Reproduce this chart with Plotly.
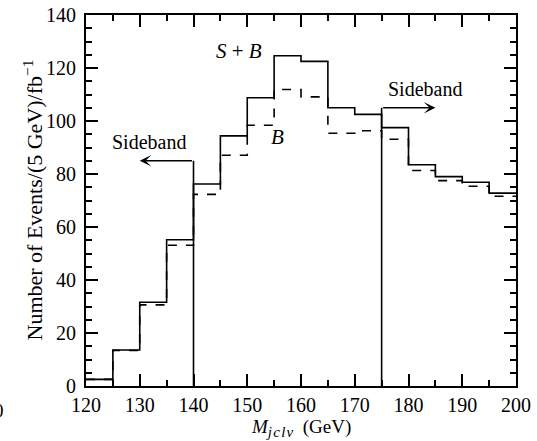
import plotly.graph_objects as go

# Histogram bin edges (GeV) and contents per 5 GeV bin, events/fb^-1
bin_edges = [120, 125, 130, 135, 140, 145, 150, 155, 160, 165, 170, 175, 180, 185, 190, 195, 200]
signal_plus_bkg = [2.5, 13.6, 31.6, 55.2, 76.2, 94.4, 108.8, 124.6, 122.5, 105.0, 102.5, 97.5, 83.5, 79.0, 76.9, 72.8]
background = [2.5, 13.4, 30.6, 53.1, 72.3, 87.1, 98.4, 111.9, 109.1, 95.4, 96.3, 93.1, 81.3, 77.5, 75.4, 71.6]

# Sideband cuts: cut position, arrow height, arrow end
sideband_cut = [140, 175]
sideband_level = [85, 105]
sideband_end = [130, 185]
sideband_label_x = [131.8, 183.1]

FONT = "Liberation Serif"
BLACK = "black"
HAIR = "\u200a"


def steps(values):
    return bin_edges, list(values) + [values[-1]]


fig = go.Figure()

xs, ys = steps(signal_plus_bkg)
fig.add_trace(go.Scatter(x=xs, y=ys, mode="lines", line=dict(color=BLACK, width=1.6, shape="hv"),
                         showlegend=False, hoverinfo="skip"))
xb, yb = steps(background)
fig.add_trace(go.Scatter(x=xb, y=yb, mode="lines", line=dict(color=BLACK, width=1.6, shape="hv", dash="dash"),
                         showlegend=False, hoverinfo="skip"))

# vertical cut lines with sideband arrows
for cut, lvl, end, lx in zip(sideband_cut, sideband_level, sideband_end, sideband_label_x):
    fig.add_trace(go.Scatter(x=[cut, cut], y=[0, lvl], mode="lines",
                             line=dict(color=BLACK, width=1.6), showlegend=False, hoverinfo="skip"))
    fig.add_annotation(x=end, y=lvl, ax=cut, ay=lvl, xref="x", yref="y", axref="x", ayref="y",
                       text="", showarrow=True, arrowhead=3, arrowsize=1.3, arrowwidth=1.5, arrowcolor=BLACK)
    fig.add_annotation(x=lx, y=lvl + 7.1, xref="x", yref="y",
                       text="Sideband", showarrow=False, font=dict(family=FONT, size=20, color=BLACK))

fig.add_annotation(x=148.5, y=126.4, xref="x", yref="y", text="<i>S</i> + <i>B</i>", showarrow=False,
                   font=dict(family=FONT, size=21, color=BLACK))
fig.add_annotation(x=155.7, y=94.0, xref="x", yref="y", text="<i>B</i>", showarrow=False,
                   font=dict(family=FONT, size=21, color=BLACK))

# partial label clipped at the left edge
fig.add_annotation(x=0, y=0, xref="paper", yref="paper", xanchor="right", yanchor="top",
                   xshift=-80, yshift=-12, text="0", showarrow=False,
                   font=dict(family=FONT, size=19, color=BLACK))

# axis titles
x_title = ("<i>M</i><sub><span style='font-size:15px'><i>j" + HAIR + "c" + HAIR + "l" + HAIR + "ν</i></span></sub>"
           + "  (GeV)")
fig.add_annotation(x=0.5, y=0, xref="paper", yref="paper", xanchor="center", yanchor="top",
                   yshift=-28, text=x_title, showarrow=False,
                   font=dict(family=FONT, size=19, color=BLACK))
fig.add_annotation(x=0, y=0.5, xref="paper", yref="paper", xanchor="center", yanchor="middle",
                   xshift=-54, textangle=-90, text="Number of Events/(5 GeV)/fb<sup>−1</sup>", showarrow=False,
                   font=dict(family=FONT, size=22, color=BLACK))

tick_font = dict(family=FONT, size=20, color=BLACK)
minor_ticks = dict(ticks="inside", ticklen=6, tickcolor=BLACK, tickwidth=1.5, showgrid=False)
axis_common = dict(showline=True, linecolor=BLACK, linewidth=2.2, mirror=True, automargin=False,
                   ticks="inside", tickcolor=BLACK, tickwidth=1.5, ticklen=12, showgrid=False, zeroline=False,
                   tickfont=tick_font)

fig.update_layout(
    xaxis=dict(range=[120, 200], dtick=10, minor=dict(dtick=5, **minor_ticks), **axis_common),
    yaxis=dict(range=[0, 140], dtick=20, minor=dict(dtick=5, **minor_ticks), ticklabelstandoff=4,
               **axis_common),
    # mirrored tick marks on the top and right edges
    xaxis2=dict(overlaying="x", side="top", range=[120, 200], dtick=10, ticks="inside", ticklen=12,
                tickwidth=1.5, tickcolor=BLACK, showticklabels=False, showgrid=False, zeroline=False,
                automargin=False, minor=dict(dtick=5, **minor_ticks)),
    yaxis2=dict(overlaying="y", side="right", range=[0, 140], dtick=20, ticks="inside", ticklen=12,
                tickwidth=1.5, tickcolor=BLACK, showticklabels=False, showgrid=False, zeroline=False,
                automargin=False, minor=dict(dtick=5, **minor_ticks)),
    width=537, height=441, margin=dict(l=86, r=21, t=15, b=55),
    plot_bgcolor="white", paper_bgcolor="white", showlegend=False,
)

# invisible trace to activate the mirrored axes
fig.add_trace(go.Scatter(x=[bin_edges[0]], y=[0], xaxis="x2", yaxis="y2", mode="markers",
                         marker=dict(opacity=0), showlegend=False, hoverinfo="skip"))

fig.write_html("out.html")
